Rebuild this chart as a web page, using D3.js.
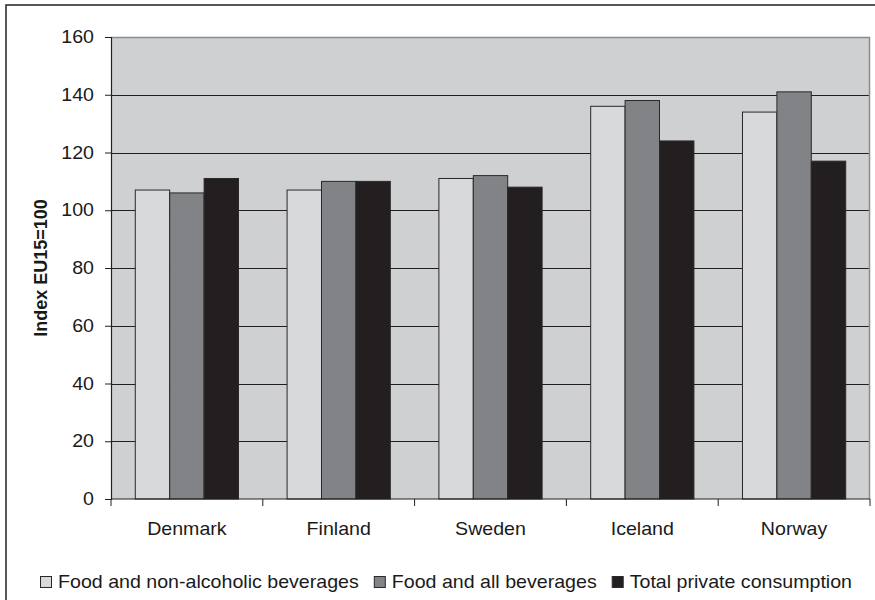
<!DOCTYPE html>
<html>
<head>
<meta charset="utf-8">
<script src="https://cdn.jsdelivr.net/npm/d3@7"></script>
<style>
  html, body { margin: 0; padding: 0; background: #ffffff; }
  svg { display: block; }
  text { font-family: "Liberation Sans", Arial, Helvetica, sans-serif; fill: #1a1a1a; }
</style>
</head>
<body>
<svg id="chart" width="875" height="600"></svg>
<script>
// Price level indices, EU15 = 100
const countries = ["Denmark", "Finland", "Sweden", "Iceland", "Norway"];
const seriesNames = ["Food and non-alcoholic beverages", "Food and all beverages", "Total private consumption"];
const foodNonAlcoholic = [107, 107, 111, 136, 134];
const foodAllBeverages = [106, 110, 112, 138, 141];
const totalConsumption = [111, 110, 108, 124, 117];
const yTicks = [0, 20, 40, 60, 80, 100, 120, 140, 160];
const yTitle = "Index EU15=100";

const seriesValues = [foodNonAlcoholic, foodAllBeverages, totalConsumption];
const seriesFill = ["#d8d9db", "#828386", "#231f20"];

const svg = d3.select("#chart");
const plot = { left: 111, right: 870, top: 37, bottom: 499 };
const stretch = 1.09; // horizontal widening of the label type

// outer frame
svg.append("rect")
  .attr("x", 6).attr("y", 5).attr("width", 890).attr("height", 620)
  .attr("fill", "#ffffff").attr("stroke", "#231f20").attr("stroke-width", 1.5);

const y = d3.scaleLinear().domain([0, 160]).range([plot.bottom, plot.top]);
const x0 = d3.scaleBand().domain(countries).range([plot.left, plot.right]).padding(0);
const x1 = d3.scaleBand().domain(d3.range(seriesNames.length))
  .range([0, x0.bandwidth()]).paddingInner(0).paddingOuter(0.706);

// plot background
svg.append("rect")
  .attr("x", plot.left).attr("y", plot.top)
  .attr("width", plot.right - plot.left).attr("height", plot.bottom - plot.top)
  .attr("fill", "#cfd0d2");

// gridlines
svg.append("g").selectAll("line")
  .data(yTicks.filter(t => t > 0 && t < 160))
  .join("line")
  .attr("x1", plot.left).attr("x2", plot.right)
  .attr("y1", d => Math.round(y(d)) + 0.5).attr("y2", d => Math.round(y(d)) + 0.5)
  .attr("stroke", "#231f20").attr("stroke-width", 1.1);

// grey top and right border of the plot
svg.append("path")
  .attr("d", `M${plot.left},${plot.top + 0.5}H${plot.right - 0.5}V${plot.bottom}`)
  .attr("fill", "none").attr("stroke", "#8a8b8d").attr("stroke-width", 1.5);

// bars
const rows = countries.map((c, i) => ({ country: c, values: seriesValues.map(s => s[i]) }));
svg.append("g").selectAll("g")
  .data(rows)
  .join("g")
  .attr("transform", d => `translate(${x0(d.country)},0)`)
  .selectAll("rect")
  .data(d => d.values.map((v, k) => ({ k, v })))
  .join("rect")
  .attr("x", d => x1(d.k))
  .attr("y", d => y(d.v))
  .attr("width", x1.bandwidth())
  .attr("height", d => y(0) - y(d.v))
  .attr("fill", d => seriesFill[d.k])
  .attr("stroke", "#2b2829").attr("stroke-width", 1);

// y axis
const yAxis = svg.append("g")
  .attr("transform", `translate(${plot.left},0)`)
  .call(d3.axisLeft(y).tickValues(yTicks).tickSize(6).tickFormat(d3.format("d")));
yAxis.select(".domain").attr("stroke", "#231f20").attr("stroke-width", 1.2);
yAxis.selectAll(".tick line").attr("stroke", "#231f20");
yAxis.selectAll(".tick text").remove();
yAxis.selectAll(".tick").append("text")
  .attr("transform", `translate(-17,5.5) scale(${stretch},1)`)
  .attr("text-anchor", "end")
  .attr("font-size", 18)
  .text(d => d);

// x axis with ticks at the category boundaries
const xAxisG = svg.append("g").attr("transform", `translate(0,${plot.bottom})`);
xAxisG.append("line")
  .attr("x1", plot.left).attr("x2", plot.right)
  .attr("stroke", "#231f20").attr("stroke-width", 1.2);
const boundaries = countries.map(c => x0(c)).concat([x0(countries[countries.length - 1]) + x0.bandwidth()]);
xAxisG.selectAll("line.tick")
  .data(boundaries)
  .join("line")
  .attr("class", "tick")
  .attr("x1", d => d).attr("x2", d => d)
  .attr("y1", 0).attr("y2", 7)
  .attr("stroke", "#231f20");
xAxisG.selectAll("text")
  .data(countries)
  .join("text")
  .attr("transform", d => `translate(${x0(d) + x0.bandwidth() / 2},36) scale(${stretch},1)`)
  .attr("text-anchor", "middle")
  .attr("font-size", 18)
  .text(d => d);

// y axis title
svg.append("text")
  .attr("transform", "translate(47,268) rotate(-90)")
  .attr("text-anchor", "middle")
  .attr("font-size", 18)
  .attr("font-weight", "bold")
  .text(yTitle);

// legend
const legend = svg.append("g").attr("transform", "translate(0,588)");
let lx = 40;
seriesNames.forEach((name, k) => {
  legend.append("rect")
    .attr("x", lx + 0.5).attr("y", -11.5)
    .attr("width", 11).attr("height", 11)
    .attr("fill", seriesFill[k]).attr("stroke", "#2b2829").attr("stroke-width", 1);
  const t = legend.append("text")
    .attr("transform", `translate(${lx + 18},0) scale(${stretch},1)`)
    .attr("font-size", 18)
    .text(name);
  const w = t.node().getComputedTextLength() * stretch;
  lx += 18 + w + 15;
});
</script>
</body>
</html>
